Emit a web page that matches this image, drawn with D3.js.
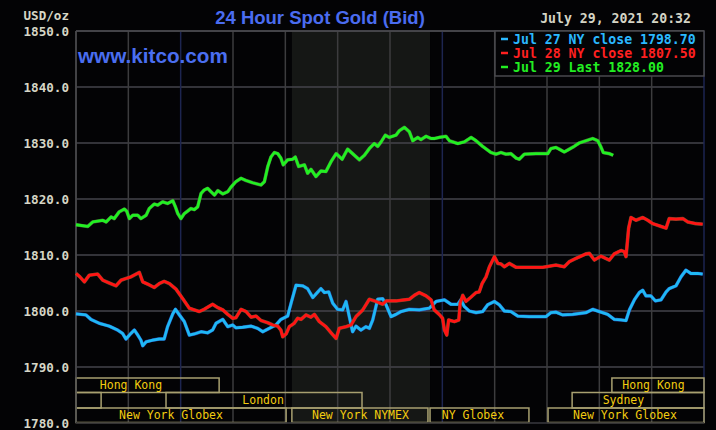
<!DOCTYPE html>
<html><head><meta charset="utf-8">
<script src="https://cdn.jsdelivr.net/npm/d3@7"></script>
<style>html,body{margin:0;padding:0;background:#030305;}svg{display:block;}</style>
</head><body>
<script>
// ---------- DATA ----------
const yTicks = [1780, 1790, 1800, 1810, 1820, 1830, 1840, 1850];
const hourTicks = [0, 2, 4, 6, 8, 10, 12, 14, 16, 18, 20, 22, 24];
const dayMarkHours = [4, 14];
const nymexSession = [8.25, 13.53];

const legendLabels = ["Jul 27 NY close 1798.70", "Jul 28 NY close 1807.50", "Jul 29 Last 1828.00"];
const titleText = "24 Hour Spot Gold (Bid)";
const dateText = "July 29, 2021 20:32";

// Jul 27 (blue)
const jul27Hours = [0,0.38,0.57,0.89,1.27,1.59,1.78,1.91,2.10,2.23,2.36,2.48,2.55,2.68,2.93,3.18,3.37,3.50,3.70,3.80,3.95,4.14,4.33,4.52,4.78,5.03,5.22,5.35,5.61,5.80,5.99,6.11,6.37,6.69,6.94,7.14,7.39,7.64,7.83,8.09,8.22,8.41,8.66,8.85,9.05,9.24,9.36,9.49,9.66,9.81,10.00,10.19,10.32,10.44,10.57,10.70,10.89,11.08,11.21,11.34,11.53,11.72,11.85,12.04,12.23,12.42,12.74,13.12,13.50,13.76,14.08,14.33,14.59,14.71,14.84,15.03,15.29,15.54,15.73,15.99,16.18,16.37,16.62,16.88,17.32,17.96,18.15,18.34,18.60,18.98,19.49,19.75,20.00,20.32,20.57,20.83,21.02,21.15,21.34,21.53,21.66,21.78,21.97,22.14,22.36,22.55,22.67,22.93,23.12,23.31,23.50,23.76,23.95];
const jul27Values = [1799.5,1799.3,1798.5,1797.8,1797.3,1796.6,1796.0,1795.0,1796.0,1796.6,1795.7,1794.8,1793.8,1794.5,1794.8,1795.0,1795.0,1797.2,1799.5,1800.3,1799.3,1798.1,1795.7,1795.9,1796.3,1796.1,1796.6,1797.8,1798.5,1797.2,1797.5,1797.0,1797.1,1797.3,1796.9,1796.3,1796.9,1797.5,1798.5,1799.1,1801.4,1804.6,1804.5,1804.0,1802.4,1803.4,1804.0,1803.3,1803.4,1801.4,1800.3,1800.2,1801.7,1799.1,1796.3,1797.3,1796.6,1797.2,1796.9,1798.4,1802.1,1802.2,1801.1,1799.0,1799.4,1799.9,1800.3,1800.2,1800.5,1801.7,1802.0,1801.2,1801.2,1802.0,1800.8,1800.0,1799.7,1799.9,1801.1,1801.7,1801.1,1800.0,1799.9,1799.1,1799.0,1799.0,1799.7,1799.8,1799.3,1799.4,1799.7,1800.3,1799.9,1799.4,1798.5,1798.4,1798.3,1800.2,1802.0,1803.3,1803.7,1802.7,1802.7,1801.8,1802.0,1803.4,1804.0,1804.5,1806.1,1807.3,1806.7,1806.7,1806.6];

// Jul 28 (red)
const jul28Hours = [0,0.15,0.32,0.51,0.83,1.02,1.27,1.53,1.72,1.91,2.10,2.42,2.55,2.74,2.99,3.18,3.37,3.57,3.82,4.08,4.33,4.52,4.71,4.90,5.22,5.42,5.61,5.80,5.99,6.11,6.31,6.50,6.69,6.88,7.07,7.33,7.52,7.71,7.83,7.90,8.03,8.15,8.34,8.47,8.60,8.79,8.98,9.11,9.30,9.55,9.75,9.94,10.06,10.32,10.51,10.70,10.96,11.21,11.47,11.72,11.85,12.23,12.74,12.93,13.12,13.38,13.57,13.69,13.88,14.01,14.08,14.17,14.24,14.46,14.63,14.68,14.78,14.90,15.10,15.29,15.41,15.52,15.67,15.80,15.99,16.12,16.24,16.37,16.56,16.82,17.32,17.84,18.09,18.34,18.66,18.85,19.11,19.49,19.62,19.81,20.06,20.38,20.57,20.83,20.95,21.02,21.12,21.21,21.40,21.66,21.85,22.04,22.36,22.55,22.67,22.93,23.19,23.38,23.69,23.95];
const jul28Values = [1806.7,1806.1,1805.2,1806.4,1806.6,1805.5,1805.0,1804.5,1805.5,1805.8,1806.1,1806.9,1805.2,1804.8,1804.2,1804.9,1805.3,1804.9,1803.9,1802.2,1800.5,1800.2,1799.9,1800.3,1801.2,1800.6,1800.2,1799.4,1798.7,1798.8,1800.3,1799.9,1798.9,1799.1,1798.3,1797.9,1797.5,1797.3,1796.6,1795.4,1795.9,1797.2,1797.8,1798.7,1798.5,1799.3,1798.9,1799.4,1798.1,1797.2,1796.1,1795.1,1796.9,1797.2,1797.5,1799.0,1800.2,1802.1,1801.7,1801.2,1801.8,1801.8,1802.1,1802.8,1803.3,1802.7,1802.0,1800.2,1799.4,1798.7,1796.6,1795.7,1798.4,1798.1,1798.4,1801.4,1802.8,1801.7,1802.5,1803.3,1803.4,1804.9,1806.1,1807.9,1809.7,1808.5,1808.4,1807.9,1808.5,1807.8,1807.8,1807.8,1808.0,1808.2,1807.9,1808.8,1809.4,1810.2,1810.3,1809.1,1809.8,1809.1,1810.2,1810.8,1810.6,1809.7,1814.8,1816.7,1816.2,1816.7,1816.2,1815.6,1815.1,1814.8,1816.5,1816.4,1816.5,1815.9,1815.6,1815.5];

// Jul 29 (green)
const jul29Hours = [0,0.45,0.64,1.02,1.15,1.34,1.46,1.65,1.85,1.94,2.04,2.17,2.36,2.48,2.68,2.80,2.99,3.12,3.31,3.50,3.70,3.80,3.89,4.01,4.14,4.39,4.52,4.65,4.78,4.90,5.03,5.16,5.29,5.42,5.61,5.80,5.92,6.11,6.31,6.50,6.75,7.07,7.20,7.33,7.45,7.58,7.71,7.83,7.92,8.09,8.28,8.38,8.51,8.73,8.85,8.98,9.17,9.36,9.55,9.75,9.94,10.17,10.38,10.57,10.83,11.02,11.21,11.40,11.53,11.66,11.82,11.97,12.23,12.36,12.55,12.74,12.87,13.06,13.18,13.38,13.57,13.69,13.88,14.14,14.27,14.59,14.84,15.10,15.29,15.54,15.86,16.05,16.24,16.43,16.62,16.82,16.94,17.13,17.58,18.03,18.15,18.34,18.47,18.66,18.85,19.04,19.23,19.49,19.75,19.94,20.06,20.15,20.38,20.53];
const jul29Values = [1815.4,1815.1,1815.9,1816.2,1815.9,1816.8,1816.5,1817.7,1818.2,1817.8,1816.5,1817.1,1817.1,1816.5,1817.1,1818.3,1819.1,1818.9,1819.5,1819.2,1819.7,1818.6,1817.4,1816.5,1817.4,1818.3,1818.1,1818.6,1821.0,1821.6,1821.9,1821.3,1820.7,1821.5,1820.9,1821.3,1822.1,1823.1,1823.7,1823.3,1822.9,1822.5,1823.1,1825.8,1827.5,1828.3,1828.1,1827.3,1826.1,1827.0,1827.1,1827.5,1825.8,1826.1,1824.6,1825.3,1824.0,1825.0,1824.9,1826.7,1828.1,1827.1,1828.9,1828.1,1827.0,1827.8,1829.0,1829.9,1829.4,1830.2,1831.4,1831.0,1831.4,1832.2,1832.8,1832.0,1830.4,1831.0,1830.6,1831.2,1830.8,1830.8,1831.0,1831.2,1830.4,1829.9,1830.2,1831.0,1830.4,1829.4,1828.3,1828.0,1828.3,1828.0,1828.1,1827.3,1827.1,1828.0,1828.1,1828.1,1829.0,1829.2,1828.9,1828.4,1828.9,1829.4,1830.0,1830.4,1830.8,1830.4,1829.3,1828.3,1828.1,1827.8];

// Market sessions: [startHour, endHour, row, label, labelCenterHour]
const sessionStarts = [0, 20.48, 0, 3.44, 18.96, 0, 8.25, 13.53, 18.04];
const sessionEnds   = [5.47, 24, 0.96, 10.93, 24, 8.03, 13.45, 17.31, 24];
const sessionRows   = [0, 0, 1, 1, 1, 2, 2, 2, 2];
const sessionLabels = ["Hong Kong", "Hong Kong", "", "London", "Sydney", "New York Globex", "New York NYMEX", "NY Globex", "New York Globex"];
const sessionLabelAt = [2.10, 22.07, 0, 7.15, 20.92, 3.63, 10.87, 15.17, 20.98];

// ---------- DRAW ----------
const W = 716, H = 430;
const L = 76, R = 704, T = 31, B = 423;
const svg = d3.select("body").append("svg").attr("width", W).attr("height", H)
  .style("background", "#030305");

const x = d3.scaleLinear().domain([0, 24]).range([L, R]);
const y = d3.scaleLinear().domain([1780, 1850]).range([B, T]);

const mono = "'DejaVu Sans Mono', monospace";

// NYMEX shaded region
svg.append("rect").attr("x", x(nymexSession[0])).attr("y", T)
  .attr("width", x(nymexSession[1]) - x(nymexSession[0])).attr("height", B - T)
  .attr("fill", "#151715");

// Horizontal grid
svg.append("g").selectAll("line").data(yTicks).join("line")
  .attr("x1", L).attr("x2", R).attr("y1", d => y(d)).attr("y2", d => y(d))
  .attr("stroke", "#45454b").attr("stroke-width", 1.5);

// Vertical grid
svg.append("g").selectAll("line").data(hourTicks).join("line")
  .attr("x1", d => x(d)).attr("x2", d => x(d)).attr("y1", T).attr("y2", B)
  .attr("stroke", d => (dayMarkHours.includes(d) || d === 24) ? "#1d2550" : "#3c3c3e")
  .attr("stroke-width", 1.5);

// Y-axis labels
svg.append("g").selectAll("text").data(yTicks).join("text")
  .attr("x", 69).attr("y", d => y(d)).attr("dy", "0.36em")
  .attr("text-anchor", "end").attr("font-family", mono).attr("font-weight", "bold")
  .attr("font-size", 12.6).attr("fill", "#d6d6c6")
  .text(d => d3.format(".1f")(d));
svg.append("text").attr("x", 69).attr("y", 15).attr("dy", "0.36em")
  .attr("text-anchor", "end").attr("font-family", mono).attr("font-weight", "bold")
  .attr("font-size", 12.6).attr("fill", "#d6d6c6").text("USD/oz");

// Sessions
const rowTop = [378, 392.5, 408];
const rowH = [14.5, 15.5, 14.5];
const sessions = sessionStarts.map((s, i) => ({
  s, e: sessionEnds[i], row: sessionRows[i], label: sessionLabels[i], at: sessionLabelAt[i]
}));
const sg = svg.append("g");
sg.selectAll("rect").data(sessions).join("rect")
  .attr("x", d => x(d.s)).attr("y", d => rowTop[d.row])
  .attr("width", d => x(d.e) - x(d.s)).attr("height", d => rowH[d.row])
  .attr("fill", "none").attr("stroke", "#a8a070").attr("stroke-width", 1.5);
sg.selectAll("text").data(sessions.filter(d => d.label)).join("text")
  .attr("x", d => x(d.at)).attr("y", d => rowTop[d.row] + rowH[d.row] / 2).attr("dy", "0.36em")
  .attr("text-anchor", "middle").attr("font-family", mono)
  .attr("font-size", 11.5).attr("fill", "#f2cc10").text(d => d.label);

// Plot border
svg.append("line").attr("x1", L).attr("x2", R).attr("y1", T).attr("y2", T).attr("stroke", "#4a4a4e").attr("stroke-width", 1.5);
svg.append("line").attr("x1", L).attr("x2", L).attr("y1", T).attr("y2", B).attr("stroke", "#4a4a4e").attr("stroke-width", 1.5);
svg.append("line").attr("x1", L).attr("x2", R).attr("y1", B).attr("y2", B).attr("stroke", "#2a2a2e").attr("stroke-width", 1.5);

// Series lines
const line = d3.line().x(d => x(d[0])).y(d => y(d[1]));
const series = [
  { h: jul27Hours, v: jul27Values, color: "#1fb8f5", under: "#2f55d8" },
  { h: jul28Hours, v: jul28Values, color: "#ff1414", under: "#8a6a3a" },
  { h: jul29Hours, v: jul29Values, color: "#22f022", under: "#5a7a4a" }
];
series.forEach(s => {
  const pts = s.h.map((h, i) => [h, s.v[i]]);
  svg.append("path").datum(pts).attr("d", line).attr("fill", "none")
    .attr("stroke", s.under).attr("stroke-width", 3.6).attr("stroke-linejoin", "round").attr("opacity", 0.7);
  svg.append("path").datum(pts).attr("d", line).attr("fill", "none")
    .attr("stroke", s.color).attr("stroke-width", 2.8).attr("stroke-linejoin", "round");
});

// Legend box
svg.append("rect").attr("x", 495).attr("y", T).attr("width", R - 495).attr("height", 45)
  .attr("fill", "#030305").attr("stroke", "#4a4a4e").attr("stroke-width", 1.5);
const legendColors = ["#2ab8ff", "#ff2020", "#22ee22"];
const lg = svg.append("g");
legendLabels.forEach((t, i) => {
  const ly = 39 + i * 14;
  lg.append("line").attr("x1", 501).attr("x2", 508).attr("y1", ly).attr("y2", ly)
    .attr("stroke", legendColors[i]).attr("stroke-width", 2.5);
  lg.append("text").attr("x", 513).attr("y", ly).attr("dy", "0.36em")
    .attr("font-family", mono).attr("font-weight", "bold").attr("font-size", 13.2)
    .attr("fill", legendColors[i]).text(t);
});

// Date text
svg.append("text").attr("x", 691).attr("y", 23).attr("text-anchor", "end")
  .attr("font-family", mono).attr("font-weight", "bold").attr("font-size", 13.2)
  .attr("fill", "#d4d4c4").text(dateText);

// Title
svg.append("text").attr("x", 320).attr("y", 24).attr("text-anchor", "middle")
  .attr("font-family", "'Liberation Sans', Arial, sans-serif").attr("font-weight", "bold")
  .attr("font-size", 18.5).attr("fill", "#4a6cf0").text(titleText);

// Watermark
svg.append("text").attr("x", 78).attr("y", 63)
  .attr("font-family", "'Liberation Sans', Arial, sans-serif").attr("font-weight", "bold")
  .attr("font-size", 20.7).attr("fill", "#4a6ef0").text("www.kitco.com");
</script>
</body></html>
